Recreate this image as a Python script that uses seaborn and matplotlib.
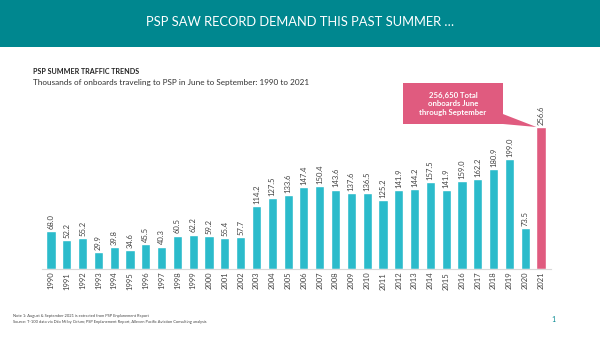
import matplotlib
matplotlib.use("Agg")
import matplotlib.pyplot as plt
from matplotlib.patches import Rectangle, Polygon
from matplotlib.ticker import FixedLocator
import seaborn as sns
import pandas as pd

years = [str(y) for y in range(1990, 2022)]
onboards = [68.0, 52.2, 55.2, 29.9, 39.8, 34.6, 45.5, 40.3, 60.5, 62.2,
            59.2, 55.4, 57.7, 114.2, 127.5, 133.6, 147.4, 150.4, 143.6, 137.6,
            136.5, 125.2, 141.9, 144.2, 157.5, 141.9, 159.0, 162.2, 180.9, 199.0,
            73.5, 256.6]
highlight_year = "2021"

TEAL_DARK = "#00878F"
TEAL_BAR = "#2BBBCB"
PINK = "#E05B7F"

sns.set_theme(style="white")
plt.rcParams["font.family"] = ["Lato", "DejaVu Sans"]

df = pd.DataFrame({"year": years, "onboards": onboards})
palette = {y: (PINK if y == highlight_year else TEAL_BAR) for y in years}

fig = plt.figure(figsize=(6.0, 3.37), dpi=100)
W, H = 600, 337

# header band
fig.patches.append(Rectangle((0, 1 - 47 / H), 1, 47 / H, transform=fig.transFigure,
                             facecolor=TEAL_DARK, edgecolor="none", zorder=0))
fig.text(0.5, 1 - 22 / H, "PSP SAW RECORD DEMAND THIS PAST SUMMER …",
         color="white", fontsize=9.3, ha="center", va="center")

fig.text(33 / W, 1 - 72 / H, "PSP SUMMER TRAFFIC TRENDS", fontsize=5.1,
         fontweight="bold", color="#222222", ha="left", va="center")
fig.text(33 / W, 1 - 82 / H,
         "Thousands of onboards traveling to PSP in June to September: 1990 to 2021",
         fontsize=5.9, color="#333333", ha="left", va="center")

ax = fig.add_axes([41.5 / W, (H - 269) / H, 509 / W, 166 / H])
sns.barplot(data=df, x="year", y="onboards", hue="year", palette=palette,
            legend=False, width=0.58, ax=ax, saturation=1)
ax.set_xlim(-0.6, len(years) - 0.4)
ax.set_ylim(0, 300)
ax.set_xlabel("")
ax.set_ylabel("")
ax.set_yticks([])
for s in ["top", "right", "left"]:
    ax.spines[s].set_visible(False)
ax.spines["bottom"].set_color("#D9D9D9")
ax.spines["bottom"].set_linewidth(0.8)
ax.tick_params(axis="x", which="major", length=0, pad=2, labelsize=5.5,
               labelcolor="#444444", labelrotation=90)
ax.xaxis.set_minor_locator(FixedLocator([i + 0.5 for i in range(-1, len(years))]))
ax.tick_params(axis="x", which="minor", length=2, width=0.6, color="#E8C9A8",
               direction="out")
for lab in ax.get_xticklabels():
    lab.set_va("top")

for i, v in enumerate(onboards):
    ax.text(i, v + 4, f"{v:.1f}", rotation=90, ha="center", va="bottom",
            fontsize=5.5, color="#444444")

# callout box pointing to the 2021 bar
fig.patches.append(Rectangle((403 / W, 1 - 124 / H), 100 / W, 41 / H,
                             transform=fig.transFigure, facecolor=PINK,
                             edgecolor="none", zorder=2))
idx = years.index(highlight_year)
tip_disp = ax.transData.transform((idx - 0.29, onboards[idx]))
tip_fig = fig.transFigure.inverted().transform(tip_disp)
fig.patches.append(Polygon([(490 / W, 1 - 109 / H), (503 / W, 1 - 124 / H),
                            (tip_fig[0], tip_fig[1])], closed=True,
                           transform=fig.transFigure, facecolor=PINK,
                           edgecolor="none", zorder=2))
fig.text(453 / W, 1 - 103.5 / H, "256,650 Total\nonboards June\nthrough September",
         color="white", fontsize=5.6, fontweight="bold", ha="center", va="center",
         linespacing=1.25, zorder=3)

fig.text(13 / W, 1 - 316 / H,
         "Note 1: August & September 2021 is extracted from PSP Enplanement Report",
         fontsize=2.9, color="#444444", ha="left", va="center")
fig.text(13 / W, 1 - 322.5 / H,
         "Source: T-100 data via Diio Mi by Cirium; PSP Enplanement Report, Alleven Pacific Aviation Consulting analysis",
         fontsize=2.9, color="#444444", ha="left", va="center")
fig.text(553 / W, 1 - 319 / H, "1", fontsize=5, color=TEAL_DARK, ha="center",
         va="center")

fig.savefig("out.png", dpi=100)
